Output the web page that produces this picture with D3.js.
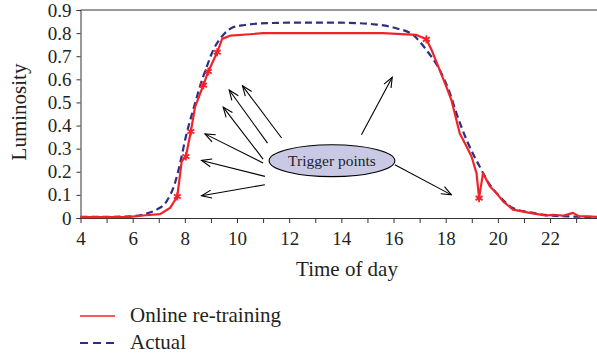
<!DOCTYPE html>
<html>
<head>
<meta charset="utf-8">
<script src="https://cdn.jsdelivr.net/npm/d3@7"></script>
<style>
  body { margin: 0; background: #fff; }
  svg { display: block; font-family: "Liberation Serif", "DejaVu Serif", serif; }
</style>
</head>
<body>
<div id="chart"></div>
<script>
// Size
var width = 597;
var height = 358;
var margin = {top: 10, right: 0, bottom: 140, left: 80.5};

// hours on x axis
var hourTicks = [4,5,6,7,8,9,10,11,12,13,14,15,16,17,18,19,20,21,22,23];
var lumTicks = [0,0.1,0.2,0.3,0.4,0.5,0.6,0.7,0.8,0.9];

// online re-training series (hour, luminosity)
var onlineHours = [4,5,5.9,6.5,7.05,7.43,7.71,7.88,8.04,8.23,8.39,8.71,8.9,9.24,9.43,9.73,10.5,11,12,14,15.6,16.3,16.88,17.26,17.46,17.77,18.0,18.22,18.54,18.75,18.99,19.18,19.28,19.43,19.69,19.94,20.2,20.58,21.22,21.86,22.1,22.5,22.88,23.1,23.8];
var onlineValues = [0.004,0.004,0.005,0.012,0.017,0.043,0.093,0.245,0.266,0.374,0.48,0.575,0.634,0.717,0.775,0.789,0.795,0.8,0.8,0.8,0.8,0.796,0.792,0.773,0.727,0.64,0.575,0.51,0.366,0.32,0.266,0.194,0.086,0.194,0.137,0.108,0.072,0.036,0.022,0.01,0.014,0.01,0.022,0.008,0.005];

// actual series
var actualHours = [4,5,5.9,6.5,6.92,7.3,7.62,7.82,8.04,8.32,8.58,8.84,9.09,9.47,9.85,10.3,11.13,12,14,15.35,16.1,16.75,17.26,17.77,18.16,18.41,18.8,19.3,19.69,20.07,20.58,21.35,22.1,23,23.8];
var actualValues = [0.005,0.005,0.007,0.018,0.036,0.072,0.151,0.238,0.353,0.468,0.569,0.655,0.727,0.792,0.825,0.835,0.843,0.845,0.845,0.837,0.821,0.792,0.727,0.64,0.54,0.454,0.338,0.223,0.144,0.093,0.043,0.022,0.01,0.006,0.004];

// trigger points (marked with asterisks on the online curve)
var triggerHours = [7.71,8.04,8.23,8.71,8.9,9.24,17.26,19.28];
var triggerValues = [0.093,0.266,0.374,0.575,0.634,0.717,0.773,0.086];

// annotation arrows: from bubble to trigger area, in data units
var arrowFrom = [[11.07,0.144],[11.07,0.18],[11.0,0.238],[11.0,0.255],[11.17,0.324],[11.71,0.346],[14.77,0.36],[16.05,0.23]];
var arrowTo = [[8.64,0.096],[8.64,0.249],[8.77,0.364],[9.47,0.48],[9.7,0.554],[10.21,0.572],[15.95,0.609],[18.22,0.1]];
var bubble = {hour: 13.64, lum: 0.248, rHours: 2.41, rLum: 0.069, label: "Trigger points"};

var legendLabels = ["Online re-training", "Actual"];

var red = "#f0232b";
var navy = "#2c2f85";
var textColor = "#231f20";
var serif = "'Liberation Serif', 'DejaVu Serif', serif";

var svg = d3.select("#chart")
  .append("svg")
  .attr("width", width)
  .attr("height", height);

var x = d3.scaleLinear()
  .domain([4, 23.8])
  .range([margin.left, width]);

var y = d3.scaleLinear()
  .domain([0, 0.9])
  .range([height - margin.bottom, margin.top]);

// arrow head (open V)
svg.append("defs").append("marker")
  .attr("id", "arrow")
  .attr("viewBox", "-1 -1 12 10")
  .attr("refX", 10)
  .attr("refY", 4)
  .attr("markerWidth", 12)
  .attr("markerHeight", 10)
  .attr("markerUnits", "userSpaceOnUse")
  .attr("orient", "auto")
  .append("path")
    .attr("d", "M0,0 L10,4 L0,8")
    .attr("fill", "none")
    .attr("stroke", "#000")
    .attr("stroke-width", 1.1);

// top frame line
svg.append("line")
  .attr("x1", x(4)).attr("x2", width)
  .attr("y1", y(0.9)).attr("y2", y(0.9))
  .attr("stroke", "#333").attr("stroke-width", 1);

// Y axis
var yAxis = svg.append("g")
  .attr("transform", "translate(" + x(4) + ",0)")
  .call(d3.axisLeft(y).tickValues(lumTicks).tickSize(4).tickPadding(5)
    .tickFormat(function(d){ return d === 0 ? "0" : d3.format(".1f")(d); }))
  .attr("font-family", serif)
  .attr("font-size", null);
yAxis.select(".domain").attr("stroke", "#333");
yAxis.selectAll(".tick line").attr("stroke", "#333");
yAxis.selectAll("text").style("font-size", "19px").style("font-family", serif).attr("fill", textColor);

// X axis
var xAxis = svg.append("g")
  .attr("transform", "translate(0," + y(0) + ")")
  .call(d3.axisBottom(x).tickValues(hourTicks).tickSize(5).tickPadding(9)
    .tickFormat(function(d){ return d % 2 === 0 ? d : ""; }))
  .attr("font-family", serif)
  .attr("font-size", null);
xAxis.select(".domain").attr("stroke", "#333").attr("d", "M" + x(4) + ",0.5H" + width);
xAxis.selectAll(".tick line").attr("stroke", "#333");
xAxis.selectAll("text").style("font-size", "19px").style("font-family", serif).attr("fill", textColor);

// axis titles
svg.append("text")
  .attr("x", 347).attr("y", 276)
  .attr("text-anchor", "middle")
  .style("font-size", "21px")
  .style("font-family", serif)
  .attr("fill", textColor)
  .text("Time of day");

svg.append("text")
  .attr("transform", "translate(26,112)rotate(-90)")
  .attr("text-anchor", "middle")
  .style("font-size", "21px")
  .style("font-family", serif)
  .attr("fill", textColor)
  .text("Luminosity");

// lines
var actualData = actualHours.map(function(h, i){ return [h, actualValues[i]]; });
var onlineData = onlineHours.map(function(h, i){ return [h, onlineValues[i]]; });

svg.append("path")
  .datum(actualData)
  .attr("fill", "none")
  .attr("stroke", navy)
  .attr("stroke-width", 2.2)
  .attr("stroke-dasharray", "7,4")
  .attr("d", d3.line().curve(d3.curveMonotoneX)
    .x(function(d){ return x(d[0]); })
    .y(function(d){ return y(d[1]); }));

svg.append("path")
  .datum(onlineData)
  .attr("fill", "none")
  .attr("stroke", red)
  .attr("stroke-width", 2.2)
  .attr("stroke-linejoin", "round")
  .attr("d", d3.line()
    .x(function(d){ return x(d[0]); })
    .y(function(d){ return y(d[1]); }));

// trigger markers
svg.selectAll(".trig")
  .data(triggerHours)
  .enter()
  .append("path")
    .attr("class", "trig")
    .attr("transform", function(d, i){ return "translate(" + x(d) + "," + y(triggerValues[i]) + ")"; })
    .attr("d", d3.symbol().type(d3.symbolAsterisk).size(45))
    .attr("fill", "none")
    .attr("stroke", red)
    .attr("stroke-width", 1.8);

// annotation arrows
svg.selectAll(".arrow")
  .data(arrowFrom)
  .enter()
  .append("line")
    .attr("class", "arrow")
    .attr("x1", function(d){ return x(d[0]); })
    .attr("y1", function(d){ return y(d[1]); })
    .attr("x2", function(d, i){ return x(arrowTo[i][0]); })
    .attr("y2", function(d, i){ return y(arrowTo[i][1]); })
    .attr("stroke", "#000")
    .attr("stroke-width", 1.1)
    .attr("marker-end", "url(#arrow)");

// bubble
svg.append("ellipse")
  .attr("cx", x(bubble.hour))
  .attr("cy", y(bubble.lum))
  .attr("rx", x(bubble.hour + bubble.rHours) - x(bubble.hour))
  .attr("ry", y(bubble.lum - bubble.rLum) - y(bubble.lum))
  .attr("fill", "#c9c9e6")
  .attr("stroke", "#000")
  .attr("stroke-width", 1.1);

svg.append("text")
  .attr("x", x(bubble.hour))
  .attr("y", y(bubble.lum) + 5)
  .attr("text-anchor", "middle")
  .style("font-size", "15.5px")
  .style("font-family", serif)
  .attr("fill", textColor)
  .text(bubble.label);

// legend
var legend = svg.append("g");
legendLabels.forEach(function(lab, i){
  var ly = 316 + i * 27;
  legend.append("line")
    .attr("x1", 80).attr("x2", 115)
    .attr("y1", ly).attr("y2", ly)
    .attr("stroke", i === 0 ? red : navy)
    .attr("stroke-width", i === 0 ? 1.6 : 1.8)
    .attr("stroke-dasharray", i === 0 ? null : "8,5");
  legend.append("text")
    .attr("x", 130).attr("y", ly + 6)
    .style("font-size", "21px")
    .style("font-family", serif)
    .attr("fill", textColor)
    .text(lab);
});
</script>
</body>
</html>
